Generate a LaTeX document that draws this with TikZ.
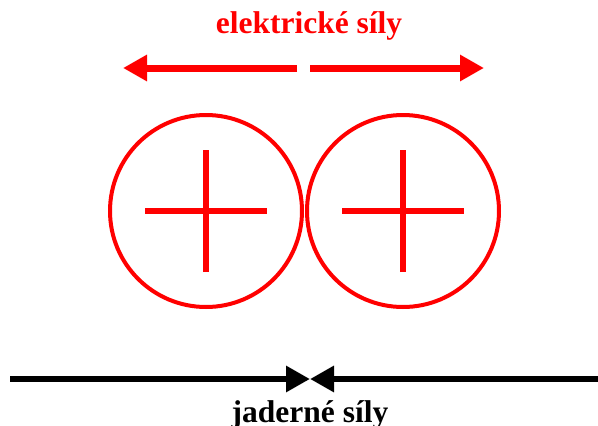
\documentclass[tikz,border=0pt]{standalone}
\usepackage{fontspec}
\setmainfont{Liberation Serif}
\usetikzlibrary{positioning,arrows.meta}
\definecolor{elred}{RGB}{255,0,0}
\tikzset{
  proton/.style={draw=elred, line width=4pt, circle, minimum size=192pt, inner sep=0pt},
  force/.style={line width=7pt, -{Triangle[length=24pt,width=25pt]}},
  label/.style={font=\bfseries\fontsize{31.5}{34}\selectfont, inner sep=0pt, anchor=base}
}
\begin{document}
\begin{tikzpicture}[x=1pt,y=-1pt]
    \useasboundingbox (0,0) rectangle (598,426);
    % protons
    \node[proton] (p1) at (206,211) {};
    \node[proton] (p2) at (403,211) {};
    \foreach \p in {p1,p2} {
        \draw[elred, line width=6pt] ([xshift=-61pt]\p.center) -- ([xshift=61pt]\p.center);
        \draw[elred, line width=6pt] ([yshift=-61pt]\p.center) -- ([yshift=61pt]\p.center);
    }
    % electric forces
    \node[label, text=elred] (el) at (309,33) {elektrické síly};
    \coordinate (eL) at (297,68);
    \coordinate (eLt) at (123,68);
    \coordinate (eR) at (310,68);
    \coordinate (eRt) at (484,68);
    \draw[force, elred] (eL) -- (eLt);
    \draw[force, elred] (eR) -- (eRt);
    % nuclear forces
    \coordinate (nL) at (10,379);
    \coordinate (nR) at (598,379);
    \coordinate (nM) at (310,379);
    \draw[force, line width=6pt] (nL) -- (nM);
    \draw[force, line width=6pt] (nR) -- (nM);
    \node[label] (jad) at (310,422) {jaderné síly};
\end{tikzpicture}
\end{document}
